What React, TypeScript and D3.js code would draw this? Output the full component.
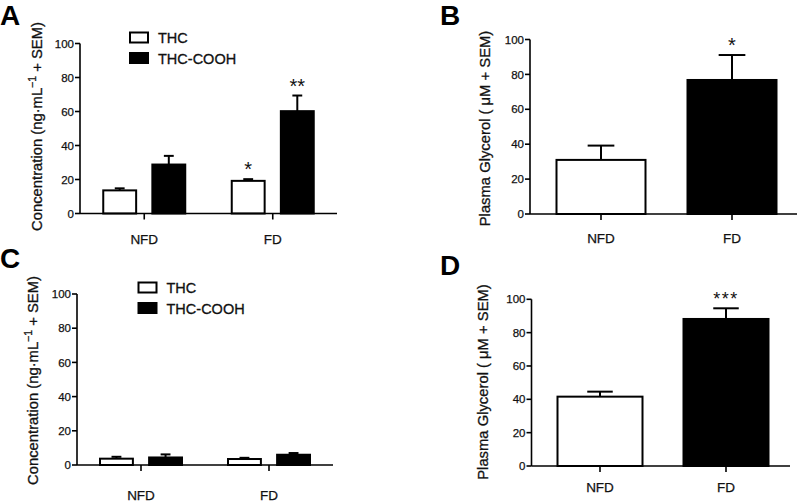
import React from "react";
import * as d3 from "d3";

const groups = ["NFD", "FD"];
const seriesNames = ["THC", "THC-COOH"];
const yTicks = [0, 20, 40, 60, 80, 100];

// Panel A: concentration (ng/mL)
const aThc = [13.6, 19.2];
const aThcErr = [1.2, 1.0];
const aCooh = [28.8, 60.2];
const aCoohErr = [5.1, 9.2];
const aThcStars = ["", "*"];
const aCoohStars = ["", "**"];

// Panel C
const cThc = [3.7, 3.5];
const cThcErr = [1.1, 0.7];
const cCooh = [4.4, 6.0];
const cCoohErr = [1.8, 1.0];
const cThcStars = ["", ""];
const cCoohStars = ["", ""];

// Panel B: plasma glycerol (µM)
const bGlycerol = [31.0, 76.8];
const bErr = [8.2, 14.3];
const bStars = ["", "*"];

// Panel D
const dGlycerol = [41.6, 88.2];
const dErr = [3.0, 6.4];
const dStars = ["", "***"];

const FONT = "'Liberation Sans', Arial, Helvetica, sans-serif";
const TEXT_W = 500;

type Layout = {
  axisX: number;
  axisEnd: number;
  y0: number;
  y100: number;
  bandStart: number;
  bandEnd: number;
  letter: string;
  letterX: number;
  letterY: number;
  labelX: number;
  labelY: number;
  xLabelDy: number;
};

function Axes({ L, y, x, label }: { L: Layout; y: d3.ScaleLinear<number, number>; x: d3.ScaleBand<string>; label: React.ReactNode }) {
  return (
    <g fontFamily={FONT} fill="#111">
      <line x1={L.axisX} x2={L.axisX} y1={y(100)} y2={y(0)} stroke="#000" strokeWidth={1.6} />
      <line x1={L.axisX} x2={L.axisEnd} y1={y(0)} y2={y(0)} stroke="#000" strokeWidth={1.6} />
      {yTicks.map((t) => (
        <g key={t}>
          <line x1={L.axisX - 5} x2={L.axisX} y1={y(t)} y2={y(t)} stroke="#000" strokeWidth={1.6} />
          <text x={L.axisX - 6} y={y(t)} dy="0.36em" textAnchor="end" fontSize={11.5} fontWeight={TEXT_W} stroke="#111" strokeWidth={0.25}>
            {t}
          </text>
        </g>
      ))}
      {groups.map((g) => {
        const cx = (x(g) as number) + x.bandwidth() / 2;
        return (
          <g key={g}>
            <line x1={cx} x2={cx} y1={y(0)} y2={y(0) + 6} stroke="#000" strokeWidth={1.6} />
            <text x={cx} y={y(0) + L.xLabelDy} textAnchor="middle" fontSize={13.5} fontWeight={TEXT_W} stroke="#111" strokeWidth={0.25}>
              {g}
            </text>
          </g>
        );
      })}
      <text
        transform={`translate(${L.labelX},${L.labelY}) rotate(-90)`}
        textAnchor="middle"
        fontSize={14.8}
        fontWeight={TEXT_W}
        stroke="#111"
        strokeWidth={0.3}
      >
        {label}
      </text>
      <text x={L.letterX} y={L.letterY} fontSize={28} fontWeight="bold" fill="#000">
        {L.letter}
      </text>
    </g>
  );
}

function Bar({ x0, w, v, e, y, fill, star, starSize, starSpacing }: any) {
  const top = y(v + e);
  const cx = x0 + w / 2;
  const cap = w * 0.3;
  return (
    <g>
      <line x1={cx} x2={cx} y1={y(v)} y2={top} stroke="#000" strokeWidth={2} />
      <line x1={cx - cap / 2} x2={cx + cap / 2} y1={top} y2={top} stroke="#000" strokeWidth={2} />
      <rect x={x0} y={y(v)} width={w} height={y(0) - y(v)} fill={fill} stroke="#000" strokeWidth={2} />
      {star ? (
        <text
          x={cx}
          y={top - 3}
          textAnchor="middle"
          fontSize={starSize}
          fontFamily={FONT}
          letterSpacing={starSpacing}
          fill="#111"
        >
          {star}
        </text>
      ) : null}
    </g>
  );
}

function Grouped({
  L,
  thc,
  thcErr,
  cooh,
  coohErr,
  thcStars,
  coohStars,
  legendX,
  legendY,
  legendGap,
}: any) {
  const y = d3.scaleLinear().domain([0, 100]).range([L.y0, L.y100]);
  const x = d3.scaleBand<string>().domain(groups).range([L.bandStart, L.bandEnd]).padding(0);
  const inner = d3.scaleBand<string>().domain(seriesNames).range([-41, 41]).paddingInner(0.33).paddingOuter(0);
  const series = [
    { name: seriesNames[0], vals: thc, errs: thcErr, stars: thcStars, fill: "#fff" },
    { name: seriesNames[1], vals: cooh, errs: coohErr, stars: coohStars, fill: "#000" },
  ];
  const label = (
    <>
      Concentration (ng·mL
      <tspan fontSize={10.5} dy={-6}>
        −1
      </tspan>
      <tspan dy={6}> + SEM)</tspan>
    </>
  );
  return (
    <g>
      {groups.map((g, gi) => {
        const cx = (x(g) as number) + x.bandwidth() / 2;
        return series.map((s) => (
          <Bar
            key={g + s.name}
            x0={cx + (inner(s.name) as number)}
            w={inner.bandwidth()}
            v={s.vals[gi]}
            e={s.errs[gi]}
            y={y}
            fill={s.fill}
            star={s.stars[gi]}
            starSize={20}
            starSpacing={0}
          />
        ));
      })}
      <Axes L={L} y={y} x={x} label={label} />
      {series.map((s, i) => (
        <g key={s.name} fontFamily={FONT}>
          <rect
            x={legendX}
            y={legendY + i * legendGap}
            width={18}
            height={10}
            fill={s.fill}
            stroke="#000"
            strokeWidth={2}
          />
          <text x={legendX + 28} y={legendY + i * legendGap + 10.5} fontSize={14.5} fontWeight={TEXT_W} fill="#111" stroke="#111" strokeWidth={0.3}>
            {s.name}
          </text>
        </g>
      ))}
    </g>
  );
}

function Single({ L, vals, errs, stars, barW, starSize, starSpacing }: any) {
  const y = d3.scaleLinear().domain([0, 100]).range([L.y0, L.y100]);
  const x = d3.scaleBand<string>().domain(groups).range([L.bandStart, L.bandEnd]).padding(0);
  const fills = ["#fff", "#000"];
  const label = <>Plasma Glycerol ( μM + SEM)</>;
  return (
    <g>
      {groups.map((g, gi) => {
        const cx = (x(g) as number) + x.bandwidth() / 2;
        return (
          <Bar
            key={g}
            x0={cx - barW / 2}
            w={barW}
            v={vals[gi]}
            e={errs[gi]}
            y={y}
            fill={fills[gi]}
            star={stars[gi]}
            starSize={starSize}
            starSpacing={starSpacing}
          />
        );
      })}
      <Axes L={L} y={y} x={x} label={label} />
    </g>
  );
}

const layoutA: Layout = {
  axisX: 80, axisEnd: 337, y0: 213.5, y100: 43.5, bandStart: 80, bandEnd: 337,
  letter: "A", letterX: 0, letterY: 25, labelX: 42, labelY: 126.5, xLabelDy: 30,
};
const layoutB: Layout = {
  axisX: 530, axisEnd: 797, y0: 214, y100: 39.5, bandStart: 535.5, bandEnd: 797.5,
  letter: "B", letterX: 440, letterY: 25, labelX: 490, labelY: 128.5, xLabelDy: 29,
};
const layoutC: Layout = {
  axisX: 77, axisEnd: 333, y0: 465, y100: 294, bandStart: 77, bandEnd: 333,
  letter: "C", letterX: 0, letterY: 268, labelX: 37.5, labelY: 380.5, xLabelDy: 35,
};
const layoutD: Layout = {
  axisX: 531.5, axisEnd: 790, y0: 466, y100: 299.3, bandStart: 537, bandEnd: 789,
  letter: "D", letterX: 440, letterY: 275, labelX: 488, labelY: 382, xLabelDy: 26,
};

export default function App() {
  return (
    <svg
      width={800}
      height={502}
      viewBox="0 0 800 502"
      style={{ position: "absolute", left: 0, top: 0, background: "#fff" }}
    >
      <rect width={800} height={502} fill="#fff" />
      <Grouped
        L={layoutA}
        thc={aThc}
        thcErr={aThcErr}
        cooh={aCooh}
        coohErr={aCoohErr}
        thcStars={aThcStars}
        coohStars={aCoohStars}
        legendX={130}
        legendY={32.5}
        legendGap={20.5}
      />
      <Grouped
        L={layoutC}
        thc={cThc}
        thcErr={cThcErr}
        cooh={cCooh}
        coohErr={cCoohErr}
        thcStars={cThcStars}
        coohStars={cCoohStars}
        legendX={138.5}
        legendY={282.5}
        legendGap={20.5}
      />
      <Single L={layoutB} vals={bGlycerol} errs={bErr} stars={bStars} barW={89} starSize={20} starSpacing={0} />
      <Single L={layoutD} vals={dGlycerol} errs={dErr} stars={dStars} barW={85} starSize={18} starSpacing={1.5} />
    </svg>
  );
}
